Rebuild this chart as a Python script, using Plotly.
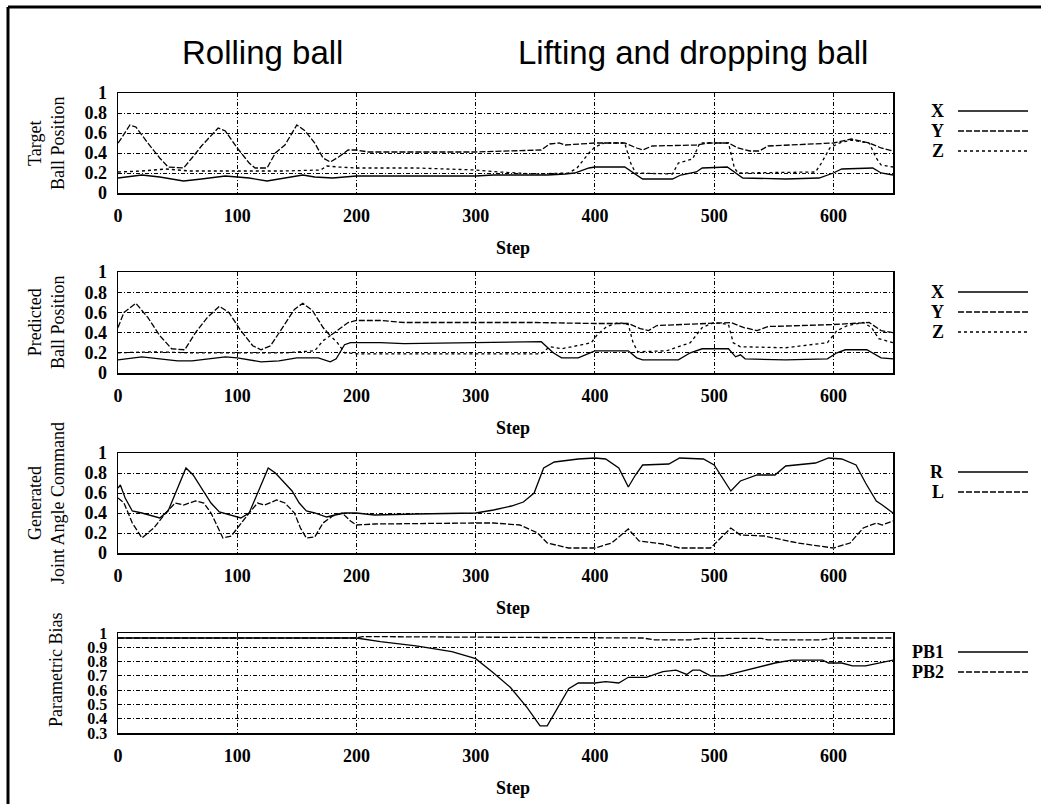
import plotly.graph_objects as go

W, H = 1041, 804

# ---------------- data ----------------
# Panel 1: Target ball position
target_x_steps = [0, 8, 20, 35, 55, 70, 90, 100, 110, 125, 140, 155, 165, 180, 200, 260, 300, 315, 360, 375, 383, 395, 400, 425, 432, 440, 465, 472, 485, 490, 511, 518, 524, 560, 588, 600, 607, 633, 640, 650]
target_x_vals = [0.15, 0.16, 0.18, 0.16, 0.12, 0.14, 0.17, 0.16, 0.15, 0.12, 0.15, 0.18, 0.16, 0.15, 0.17, 0.17, 0.17, 0.18, 0.18, 0.19, 0.20, 0.25, 0.26, 0.26, 0.20, 0.14, 0.14, 0.18, 0.21, 0.25, 0.26, 0.20, 0.15, 0.14, 0.15, 0.20, 0.24, 0.25, 0.20, 0.18]

target_y_steps = [0, 3, 10, 15, 25, 35, 42, 55, 62, 70, 84, 90, 100, 110, 115, 125, 132, 140, 150, 157, 165, 172, 178, 185, 193, 200, 210, 300, 355, 362, 370, 375, 400, 425, 435, 440, 448, 485, 495, 512, 520, 530, 538, 545, 600, 615, 630, 640, 650]
target_y_vals = [0.50, 0.55, 0.68, 0.66, 0.50, 0.35, 0.26, 0.25, 0.35, 0.47, 0.65, 0.62, 0.45, 0.30, 0.25, 0.25, 0.40, 0.48, 0.68, 0.62, 0.50, 0.35, 0.31, 0.36, 0.43, 0.43, 0.41, 0.41, 0.43, 0.49, 0.50, 0.48, 0.50, 0.50, 0.45, 0.43, 0.47, 0.48, 0.50, 0.50, 0.45, 0.42, 0.42, 0.47, 0.50, 0.54, 0.50, 0.45, 0.42]

target_z_steps = [0, 20, 40, 60, 100, 140, 170, 175, 185, 200, 250, 300, 320, 350, 378, 385, 395, 400, 408, 425, 430, 434, 465, 470, 482, 488, 512, 517, 520, 585, 590, 597, 605, 615, 630, 636, 640, 650]
target_z_vals = [0.21, 0.22, 0.24, 0.22, 0.22, 0.22, 0.23, 0.27, 0.26, 0.25, 0.25, 0.23, 0.21, 0.19, 0.20, 0.25, 0.40, 0.46, 0.50, 0.50, 0.30, 0.20, 0.19, 0.30, 0.34, 0.50, 0.50, 0.25, 0.20, 0.21, 0.30, 0.45, 0.50, 0.53, 0.50, 0.35, 0.28, 0.26]

# Panel 2: Predicted ball position
pred_x_steps = [0, 20, 35, 50, 62, 75, 90, 100, 110, 120, 135, 150, 168, 178, 183, 190, 195, 220, 240, 300, 330, 355, 365, 372, 386, 395, 400, 428, 435, 440, 470, 480, 490, 512, 518, 522, 526, 560, 595, 603, 610, 628, 640, 650]
pred_x_vals = [0.13, 0.16, 0.14, 0.12, 0.12, 0.14, 0.16, 0.15, 0.13, 0.11, 0.12, 0.15, 0.15, 0.11, 0.14, 0.28, 0.30, 0.30, 0.29, 0.30, 0.31, 0.31, 0.20, 0.15, 0.15, 0.20, 0.22, 0.22, 0.15, 0.13, 0.13, 0.20, 0.24, 0.24, 0.16, 0.18, 0.14, 0.13, 0.14, 0.20, 0.23, 0.23, 0.15, 0.14]

pred_y_steps = [0, 5, 15, 25, 35, 45, 56, 65, 75, 85, 93, 103, 113, 120, 128, 138, 148, 155, 163, 172, 178, 185, 193, 200, 220, 240, 300, 350, 400, 428, 438, 445, 452, 500, 514, 525, 536, 545, 600, 630, 640, 650]
pred_y_vals = [0.45, 0.60, 0.69, 0.55, 0.37, 0.24, 0.23, 0.40, 0.55, 0.66, 0.60, 0.42, 0.27, 0.23, 0.27, 0.45, 0.63, 0.69, 0.62, 0.45, 0.37, 0.43, 0.50, 0.52, 0.52, 0.50, 0.50, 0.50, 0.49, 0.49, 0.44, 0.42, 0.47, 0.49, 0.50, 0.45, 0.42, 0.46, 0.48, 0.50, 0.42, 0.40]

pred_z_steps = [0, 30, 60, 100, 140, 165, 172, 178, 184, 190, 200, 300, 355, 362, 372, 385, 397, 402, 410, 420, 428, 432, 436, 460, 480, 490, 500, 512, 516, 522, 560, 595, 603, 612, 625, 632, 638, 650]
pred_z_vals = [0.20, 0.21, 0.20, 0.20, 0.20, 0.22, 0.32, 0.37, 0.30, 0.20, 0.19, 0.19, 0.19, 0.26, 0.24, 0.27, 0.30, 0.38, 0.46, 0.50, 0.48, 0.30, 0.21, 0.22, 0.30, 0.45, 0.50, 0.48, 0.30, 0.26, 0.25, 0.30, 0.42, 0.47, 0.50, 0.45, 0.34, 0.30]

# Panel 3: Generated joint angle command
joint_r_steps = [0, 2, 6, 12, 20, 28, 35, 42, 48, 57, 63, 70, 78, 85, 95, 103, 110, 117, 126, 132, 140, 146, 152, 158, 165, 175, 182, 190, 200, 215, 250, 300, 315, 330, 340, 349, 357, 366, 386, 400, 409, 420, 428, 434, 440, 462, 471, 491, 500, 514, 522, 536, 551, 560, 585, 596, 607, 619, 627, 636, 641, 650]
joint_r_vals = [0.65, 0.68, 0.55, 0.42, 0.40, 0.37, 0.35, 0.42, 0.60, 0.85, 0.78, 0.65, 0.50, 0.41, 0.38, 0.35, 0.40, 0.60, 0.85, 0.80, 0.70, 0.62, 0.50, 0.42, 0.40, 0.36, 0.38, 0.40, 0.40, 0.38, 0.39, 0.40, 0.43, 0.47, 0.51, 0.60, 0.85, 0.91, 0.94, 0.95, 0.94, 0.85, 0.66, 0.78, 0.88, 0.89, 0.95, 0.94, 0.88, 0.62, 0.72, 0.78, 0.78, 0.87, 0.90, 0.95, 0.94, 0.88, 0.70, 0.52, 0.48, 0.40]

joint_l_steps = [0, 5, 12, 20, 30, 40, 48, 55, 65, 72, 78, 83, 88, 95, 102, 110, 117, 123, 133, 140, 148, 153, 158, 165, 172, 180, 188, 195, 200, 215, 300, 315, 337, 352, 360, 378, 400, 414, 428, 437, 457, 471, 497, 503, 514, 522, 542, 570, 600, 614, 625, 636, 641, 650]
joint_l_vals = [0.55, 0.50, 0.30, 0.15, 0.25, 0.40, 0.50, 0.48, 0.52, 0.50, 0.40, 0.28, 0.15, 0.17, 0.28, 0.40, 0.50, 0.48, 0.53, 0.50, 0.40, 0.25, 0.15, 0.16, 0.30, 0.37, 0.40, 0.32, 0.28, 0.29, 0.30, 0.30, 0.28, 0.20, 0.10, 0.05, 0.05, 0.10, 0.24, 0.12, 0.09, 0.05, 0.05, 0.12, 0.25, 0.18, 0.17, 0.10, 0.05, 0.10, 0.25, 0.30, 0.28, 0.32]

# Panel 4: Parametric bias
pb1_steps = [0, 200, 220, 250, 280, 300, 315, 329, 343, 354, 360, 369, 378, 386, 400, 409, 420, 428, 443, 457, 468, 477, 482, 488, 497, 508, 528, 551, 565, 591, 596, 607, 616, 627, 650]
pb1_vals = [0.965, 0.965, 0.94, 0.91, 0.87, 0.82, 0.72, 0.62, 0.48, 0.35, 0.35, 0.48, 0.61, 0.65, 0.65, 0.66, 0.65, 0.69, 0.69, 0.73, 0.74, 0.71, 0.74, 0.74, 0.70, 0.70, 0.74, 0.79, 0.81, 0.81, 0.79, 0.79, 0.77, 0.77, 0.81]

pb2_steps = [0, 200, 205, 300, 440, 450, 480, 490, 540, 545, 590, 600, 650]
pb2_vals = [0.965, 0.965, 0.975, 0.97, 0.965, 0.952, 0.952, 0.962, 0.962, 0.952, 0.952, 0.965, 0.965]

# Axis ticks and labels
step_ticks = [0, 100, 200, 300, 400, 500, 600]
pos_ticks = [0, 0.2, 0.4, 0.6, 0.8, 1]
pos_ticktext = ["0", "0.2", "0.4", "0.6", "0.8", "1"]
pb_ticks = [0.3, 0.4, 0.5, 0.6, 0.7, 0.8, 0.9, 1]
pb_ticktext = ["0.3", "0.4", "0.5", "0.6", "0.7", "0.8", "0.9", "1"]

panel_titles = ["Target<br>Ball Position", "Predicted<br>Ball Position",
                "Generated<br>Joint Angle Command", "Parametric Bias"]
legend_names = [["X", "Y", "Z"], ["X", "Y", "Z"], ["R", "L"], ["PB1", "PB2"]]
section_titles = ["Rolling ball", "Lifting and dropping ball"]

# ---------------- styling / layout ----------------
SOLID = "solid"
LONGDASH = "6px,2px"
SHORTDASH = "3px,3px"
dash_styles = [[SOLID, LONGDASH, SHORTDASH], [SOLID, LONGDASH, SHORTDASH], [SOLID, LONGDASH], [SOLID, LONGDASH]]

series = [
    [(target_x_steps, target_x_vals), (target_y_steps, target_y_vals), (target_z_steps, target_z_vals)],
    [(pred_x_steps, pred_x_vals), (pred_y_steps, pred_y_vals), (pred_z_steps, pred_z_vals)],
    [(joint_r_steps, joint_r_vals), (joint_l_steps, joint_l_vals)],
    [(pb1_steps, pb1_vals), (pb2_steps, pb2_vals)],
]

X0, X1 = 118, 893
panels = [(93, 193), (272, 373), (453, 553), (633, 733)]
legend_rows = [[111, 131, 151], [292, 312, 332], [472, 492], [652, 672]]
title_y_center = [143, 322, 503, 670]

SERIF = "Liberation Serif"
GRID_DASH = "4px,2px,1px,2px"

fig = go.Figure()
layout = dict(width=W, height=H, autosize=False,
              margin=dict(l=0, r=0, t=0, b=0, pad=0, autoexpand=False),
              paper_bgcolor="white", plot_bgcolor="white", showlegend=False)
annotations = []
shapes = []

for k, (top, bot) in enumerate(panels):
    n = "" if k == 0 else str(k + 1)
    for (s, v), dash in zip(series[k], dash_styles[k]):
        fig.add_trace(go.Scatter(x=s, y=v, mode="lines",
                                 line=dict(color="black", width=1.3, dash=dash),
                                 xaxis="x" + n, yaxis="y" + n, hoverinfo="skip"))
    if k < 3:
        yr, tv, tt, yfs = [0, 1], pos_ticks, pos_ticktext, 18
    else:
        yr, tv, tt, yfs = [0.3, 1], pb_ticks, pb_ticktext, 16
    common = dict(showline=True, mirror=True, linecolor="black", linewidth=1.5,
                  showgrid=True, gridcolor="black", gridwidth=1, griddash=GRID_DASH,
                  zeroline=False, ticks="", automargin=False, fixedrange=True)
    layout["xaxis" + n] = dict(domain=[X0 / W, X1 / W], anchor="y" + n, range=[0, 650],
                               tickvals=step_ticks, ticklabelstandoff=6,
                               tickfont=dict(family=SERIF, size=18, color="black", weight="bold"),
                               **common)
    layout["yaxis" + n] = dict(domain=[1 - bot / H, 1 - top / H], anchor="x" + n, range=yr,
                               tickvals=tv, ticktext=tt, ticklabelstandoff=6,
                               tickfont=dict(family=SERIF, size=yfs, color="black", weight="bold"),
                               **common)
    # "Step" axis title
    annotations.append(dict(text="Step", x=513 / W, y=1 - (bot + 55) / H, xref="paper", yref="paper",
                            showarrow=False, xanchor="center", yanchor="middle",
                            font=dict(family=SERIF, size=18, color="black", weight="bold")))
    # y-axis title
    annotations.append(dict(text=panel_titles[k], x=(46 if k < 3 else 56) / W,
                            y=1 - title_y_center[k] / H, xref="paper", yref="paper",
                            showarrow=False, textangle=-90, xanchor="center", yanchor="middle",
                            font=dict(family=SERIF, size=18, color="black")))
    # key
    for name, yy, dash in zip(legend_names[k], legend_rows[k], dash_styles[k]):
        annotations.append(dict(text=name, x=946 / W, y=1 - yy / H, xref="paper", yref="paper",
                                showarrow=False, xanchor="right", yanchor="middle",
                                font=dict(family=SERIF, size=18, color="black", weight="bold")))
        shapes.append(dict(type="line", xref="paper", yref="paper",
                           x0=958 / W, x1=1028 / W, y0=1 - yy / H, y1=1 - yy / H,
                           line=dict(color="black", width=1.3,
                                     dash="solid" if dash == SOLID else dash)))

annotations.append(dict(text=section_titles[0], x=262 / W, y=1 - 52 / H, xref="paper", yref="paper",
                        showarrow=False, xanchor="center", yanchor="middle",
                        font=dict(family="Liberation Sans", size=33, color="black")))
annotations.append(dict(text=section_titles[1], x=693 / W, y=1 - 52 / H, xref="paper", yref="paper",
                        showarrow=False, xanchor="center", yanchor="middle",
                        font=dict(family="Liberation Sans", size=33, color="black")))

# outer frame (top and left edges)
shapes.append(dict(type="line", xref="paper", yref="paper", x0=8 / W, x1=1, y0=1 - 7 / H, y1=1 - 7 / H,
                   line=dict(color="black", width=3)))
shapes.append(dict(type="line", xref="paper", yref="paper", x0=8 / W, x1=8 / W, y0=0, y1=1 - 7 / H,
                   line=dict(color="black", width=3)))

layout["annotations"] = annotations
layout["shapes"] = shapes
fig.update_layout(**layout)
fig.write_html("out.html", config={"displayModeBar": False, "staticPlot": True},
               post_script="document.body.style.margin='0';document.body.style.overflow='hidden';")
